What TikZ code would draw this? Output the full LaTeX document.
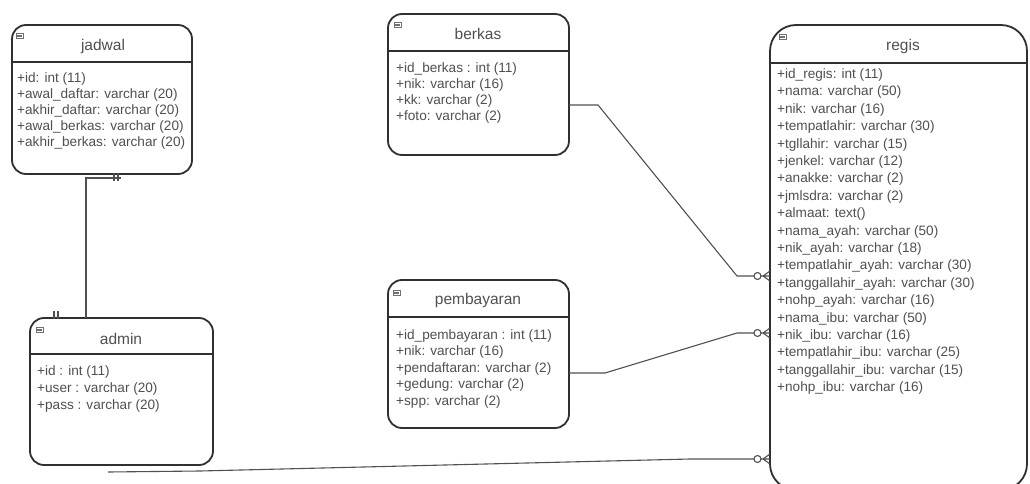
\documentclass[tikz,border=0pt]{standalone}
\usepackage{fontspec}
\setmainfont{Liberation Sans}
\usetikzlibrary{calc}
\definecolor{boxc}{HTML}{303030}
\definecolor{txtc}{HTML}{505050}
\definecolor{connc}{HTML}{505050}
\definecolor{iconc}{HTML}{707070}
\tikzset{
  tablebox/.style={draw=boxc, line width=1.8pt, rounded corners=14pt, outer sep=0pt,
    inner sep=0pt, anchor=north west, fill=white},
  sepline/.style={draw=boxc, line width=2.4pt},
  tabletitle/.style={text=txtc, font=\fontsize{15.5}{18}\selectfont, inner sep=0pt},
  attrrow/.style={text=txtc, font=\fontsize{13.6}{16}\selectfont, anchor=west, inner sep=0pt},
  conn/.style={draw=connc, line width=1.1pt},
  tblicon/.pic={
    \draw[iconc, line width=0.6pt] (0,0) rectangle (7,5);
    \draw[iconc, line width=0.5pt] (1,2) -- (6,2) (1,3.5) -- (6,3.5);
  },
  zeromany/.pic={
    \draw[conn, fill=white] (-12.5,0) circle (3.5pt);
    \draw[conn] (-9,0) -- (0,0) (-7,0) -- (0,-5) (-7,0) -- (0,5);
  },
  onetick/.pic={
    \draw[conn] (0,-4) -- (0,4) (4,-4) -- (4,4);
  }
}
\begin{document}
\begin{tikzpicture}[x=1pt, y=-1pt]
\useasboundingbox (0,0) rectangle (1030,484);
\clip (0,0) rectangle (1030,484);

% ---------- jadwal ----------
\node[tablebox, minimum width=180pt, minimum height=149pt] (jadwal) at (12,25) {};
\draw[sepline] (12,62) -- (192,62);
\node[tabletitle] (jadwal-title) at (103,46) {jadwal};
\pic at (16,33) {tblicon};
\foreach \t [count=\i] in {{+id: int (11)},{+awal\_daftar: varchar (20)},{+akhir\_daftar: varchar (20)},{+awal\_berkas: varchar (20)},{+akhir\_berkas: varchar (20)}}
  \node[attrrow] (jadwal-\i) at (17,{79+(\i-1)*16}) {\t};

% ---------- admin ----------
\node[tablebox, minimum width=183pt, minimum height=147pt] (admin) at (30,318) {};
\draw[sepline] (30,354) -- (213,354);
\node[tabletitle] (admin-title) at (121,339) {admin};
\pic at (36,327) {tblicon};
\foreach \t [count=\i] in {{+id : int (11)},{+user : varchar (20)},{+pass : varchar (20)}}
  \node[attrrow] (admin-\i) at (37,{372+(\i-1)*17}) {\t};

% ---------- berkas ----------
\node[tablebox, minimum width=181pt, minimum height=141pt] (berkas) at (388,14) {};
\draw[sepline] (388,51) -- (569,51);
\node[tabletitle] (berkas-title) at (478,34) {berkas};
\pic at (394,22) {tblicon};
\foreach \t [count=\i] in {{+id\_berkas : int (11)},{+nik: varchar (16)},{+kk: varchar (2)},{+foto: varchar (2)}}
  \node[attrrow] (berkas-\i) at (396,{69+(\i-1)*16}) {\t};

% ---------- pembayaran ----------
\node[tablebox, minimum width=181pt, minimum height=148pt] (pembayaran) at (388,280) {};
\draw[sepline] (388,317) -- (569,317);
\node[tabletitle] (pembayaran-title) at (478,300) {pembayaran};
\pic at (393,290) {tblicon};
\foreach \t [count=\i] in {{+id\_pembayaran : int (11)},{+nik: varchar (16)},{+pendaftaran: varchar (2)},{+gedung: varchar (2)},{+spp: varchar (2)}}
  \node[attrrow] (pembayaran-\i) at (396,{336+(\i-1)*16.4}) {\t};

% ---------- regis ----------
\node[tablebox, rounded corners=26pt, minimum width=257pt, minimum height=465pt] (regis) at (770,25) {};
\draw[sepline] (770,63) -- (1027,63);
\node[tabletitle] (regis-title) at (903,46) {regis};
\pic at (779,34) {tblicon};
\foreach \t [count=\i] in {{+id\_regis: int (11)},{+nama: varchar (50)},{+nik: varchar (16)},{+tempatlahir: varchar (30)},{+tgllahir: varchar (15)},{+jenkel: varchar (12)},{+anakke: varchar (2)},{+jmlsdra: varchar (2)},{+almaat: text()},{+nama\_ayah: varchar (50)},{+nik\_ayah: varchar (18)},{+tempatlahir\_ayah: varchar (30)},{+tanggallahir\_ayah: varchar (30)},{+nohp\_ayah: varchar (16)},{+nama\_ibu: varchar (50)},{+nik\_ibu: varchar (16)},{+tempatlahir\_ibu: varchar (25)},{+tanggallahir\_ibu: varchar (15)},{+nohp\_ibu: varchar (16)}}
  \node[attrrow] (regis-\i) at (777,{75+(\i-1)*17.4}) {\t};

% ---------- relationship lanes ----------
\coordinate (lane-ber) at (0,105);
\coordinate (lane-ber-r) at (0,276);
\coordinate (lane-pem) at (0,373);
\coordinate (lane-pem-r) at (0,333);
\coordinate (lane-adm-r) at (0,459);
\coordinate (admin-out) at (108,472);
\coordinate (jad-out) at ($(jadwal.south west)+(109,4)$);
\coordinate (adm-in) at ($(admin.north west)+(56,0)$);

% jadwal -- admin (one to one)
\draw[conn] (jad-out) -- (adm-in |- jad-out) -- (adm-in);
\pic at (114,177) {onetick};
\pic at (54,315) {onetick};

% berkas -- regis (zero or many)
\draw[conn] (berkas.east |- lane-ber) -- ++(29,0)
  -- ($(regis.west |- lane-ber-r)+(-33,0)$) -- ($(regis.west |- lane-ber-r)+(-16,0)$);
\pic at (regis.west |- lane-ber-r) {zeromany};

% pembayaran -- regis (zero or many)
\draw[conn] (pembayaran.east |- lane-pem) -- ++(36,0)
  -- ($(regis.west |- lane-pem-r)+(-33,0)$) -- ($(regis.west |- lane-pem-r)+(-16,0)$);
\pic at (regis.west |- lane-pem-r) {zeromany};

% admin -- regis (zero or many)
\draw[conn] (admin-out) -- ++(92,-1)
  -- ($(regis.west |- lane-adm-r)+(-80,0)$) -- ($(regis.west |- lane-adm-r)+(-16,0)$);
\pic at (regis.west |- lane-adm-r) {zeromany};
\end{tikzpicture}
\end{document}
